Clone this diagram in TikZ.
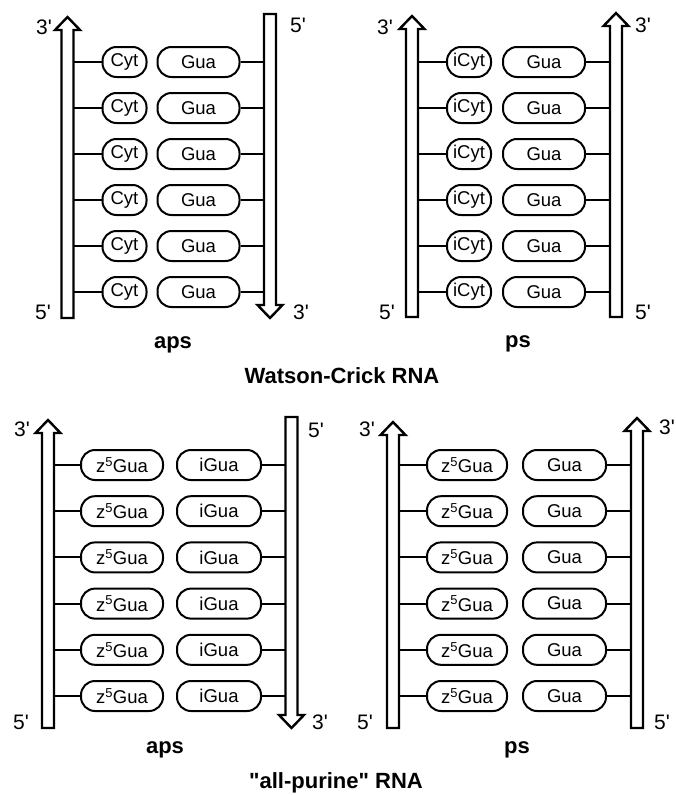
\documentclass[tikz,border=0pt]{standalone}
\usepackage{fontspec}
\setmainfont{Liberation Sans}[Ligatures=TeXOff]
\usepackage{tikz}
\usetikzlibrary{positioning}
\tikzset{
  strand/.style={line width=2.4pt, fill=white},
  base/.style={draw, line width=2pt, rounded corners=14pt, minimum height=30pt, inner sep=0pt, font=\fontsize{18.5}{21}\selectfont},
  bond/.style={line width=2pt},
  endlab/.style={font=\fontsize{21}{25}\selectfont},
  title/.style={font=\bfseries\fontsize{22}{26}\selectfont}
}
% strand pointing up: x, tip y, bottom y
\newcommand{\strandup}[3]{%
  \draw[strand] (#1-6,#3) -- (#1-6,#2+13) -- (#1-12.5,#2+13) -- (#1,#2) -- (#1+12.5,#2+13) -- (#1+6,#2+13) -- (#1+6,#3) -- cycle;}
% strand pointing down: x, top y, tip y
\newcommand{\stranddown}[3]{%
  \draw[strand] (#1-6,#2) -- (#1-6,#3-13) -- (#1-12.5,#3-13) -- (#1,#3) -- (#1+12.5,#3-13) -- (#1+6,#3-13) -- (#1+6,#2) -- cycle;}
\newcommand{\pr}{\textquotesingle}

\begin{document}
\begin{tikzpicture}[x=1pt,y=-1pt]
  \useasboundingbox (0,0) rectangle (675,795);

  % Watson-Crick, aps
  \strandup{67.5}{17}{318}
  \stranddown{270}{14}{318}
  \coordinate (wcaL) at (73.5,0);
  \coordinate (wcaR) at (264,0);
  \foreach \i in {0,...,5} {
    \node[base, minimum width=44pt] (cyt\i) at (124.5, 62+46*\i) {Cyt};
    \node[base, minimum width=82pt] (gua\i) at (198.5, 62+46*\i) {Gua};
    \draw[bond] (cyt\i.west) -- (cyt\i.west -| wcaL);
    \draw[bond] (gua\i.east) -- (gua\i.east -| wcaR);
  }
  \node[endlab] (wca3) at (44,27) {3\pr};
  \node[endlab] (wca5) at (298,25) {5\pr};
  \node[endlab] (wca5b) at (43,312) {5\pr};
  \node[endlab] (wca3b) at (301,312) {3\pr};
  \node[title] (wcaT) at (173,345) {aps};

  % Watson-Crick, ps
  \strandup{412}{16}{317}
  \strandup{616}{13}{317}
  \coordinate (wcpL) at (418,0);
  \coordinate (wcpR) at (610,0);
  \foreach \i in {0,...,5} {
    \node[base, minimum width=44pt] (icyt\i) at (469, 62+46*\i) {iCyt};
    \node[base, minimum width=82pt] (guap\i) at (544, 62+46*\i) {Gua};
    \draw[bond] (icyt\i.west) -- (icyt\i.west -| wcpL);
    \draw[bond] (guap\i.east) -- (guap\i.east -| wcpR);
  }
  \node[endlab] (wcp3) at (385,27) {3\pr};
  \node[endlab] (wcp3r) at (643,25) {3\pr};
  \node[endlab] (wcp5) at (387,312) {5\pr};
  \node[endlab] (wcp5r) at (643,312) {5\pr};
  \node[title] (wcpT) at (518,344) {ps};

  \node[title] (wcT) at (342,376) {Watson-Crick RNA};

  % all-purine, aps
  \strandup{48}{420}{728}
  \stranddown{291.5}{417}{728}
  \coordinate (apaL) at (54,0);
  \coordinate (apaR) at (285.5,0);
  \foreach \i in {0,...,5} {
    \node[base, minimum width=82pt] (zgua\i) at (122, 465+46.2*\i) {z\textsuperscript{5}Gua};
    \node[base, minimum width=84pt] (igua\i) at (219, 465+46.2*\i) {iGua};
    \draw[bond] (zgua\i.west) -- (zgua\i.west -| apaL);
    \draw[bond] (igua\i.east) -- (igua\i.east -| apaR);
  }
  \node[endlab] (apa3) at (22,429) {3\pr};
  \node[endlab] (apa5) at (316,430) {5\pr};
  \node[endlab] (apa5b) at (21,722) {5\pr};
  \node[endlab] (apa3b) at (320,722) {3\pr};
  \node[title] (apaT) at (165,750) {aps};

  % all-purine, ps
  \strandup{393}{422}{728}
  \strandup{637}{418}{728}
  \coordinate (appL) at (399,0);
  \coordinate (appR) at (631,0);
  \foreach \i in {0,...,5} {
    \node[base, minimum width=80pt] (zguap\i) at (467, 465+46.2*\i) {z\textsuperscript{5}Gua};
    \node[base, minimum width=83pt] (guaq\i) at (564.5, 465+46.2*\i) {Gua};
    \draw[bond] (zguap\i.west) -- (zguap\i.west -| appL);
    \draw[bond] (guaq\i.east) -- (guaq\i.east -| appR);
  }
  \node[endlab] (app3) at (367,429) {3\pr};
  \node[endlab] (app3r) at (667,427) {3\pr};
  \node[endlab] (app5) at (365,722) {5\pr};
  \node[endlab] (app5r) at (662,722) {5\pr};
  \node[title] (appT) at (517,750) {ps};

  \node[title] (apT) at (336,783) {"all-purine" RNA};
\end{tikzpicture}
\end{document}
